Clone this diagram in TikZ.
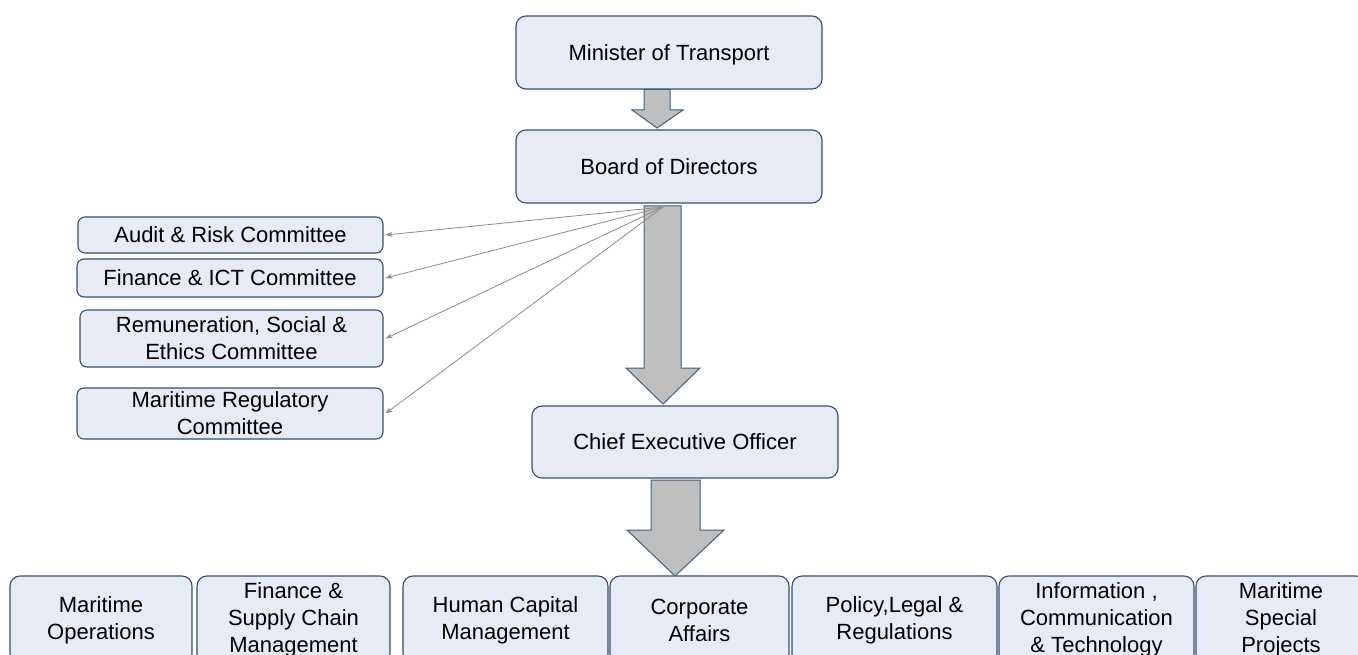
\documentclass[tikz,border=0pt]{standalone}
\usepackage{fontspec}
\setmainfont{Liberation Sans}
\usetikzlibrary{arrows.meta}
\definecolor{boxfill}{HTML}{E8EAF5}
\definecolor{boxline}{HTML}{34506E}
\definecolor{arrowfill}{HTML}{BFBFBF}
\definecolor{arrowline}{HTML}{3F5F7A}
\definecolor{linkgray}{HTML}{8C8C8C}
\begin{document}
\begin{tikzpicture}[x=1pt,y=-1pt,
  box/.style={draw=boxline, fill=boxfill, line width=1.1pt, rounded corners=10pt,
    align=center, inner sep=0pt, font=\fontsize{22}{27}\selectfont},
  smallbox/.style={box, rounded corners=7pt},
  sized/.style 2 args={minimum width=#1pt, minimum height=#2pt},
  blockarrow/.style={fill=arrowfill, draw=arrowline, line width=1pt, line join=miter},
  link/.style={draw=linkgray, line width=0.8pt, -{Stealth[length=7pt,width=5pt]}},
]
\clip (0,0) rectangle (1358,655);
\fill[white] (0,0) rectangle (1358,655);

% top of the hierarchy
\node[box, sized={306}{73}, text depth=0pt] (minister) at (669,52.5) {Minister of Transport};
\node[box, sized={306}{73}] (board) at (669,166.5) {Board of Directors};
\node[box, sized={306}{72}] (ceo) at (685,442) {Chief Executive Officer};

% board committees
\node[smallbox, sized={305}{36}] (audit) at (230.5,235) {Audit \& Risk Committee};
\node[smallbox, sized={306}{38}] (finict) at (230,278) {Finance \& ICT Committee};
\node[smallbox, sized={303}{57}] (remun) at (231.5,338.5) {Remuneration, Social \&\\Ethics Committee};
\node[smallbox, sized={306}{51}] (mreg) at (230,413.5) {Maritime Regulatory\\Committee};

% divisions
\node[box, sized={182}{88}] (ops) at (101,620) {Maritime\\Operations};
\node[box, sized={193}{88}] (fscm) at (293.5,620) {Finance \&\\Supply Chain\\Management};
\node[box, sized={205}{88}] (hcm) at (505.5,620) {Human Capital\\Management};
\node[box, sized={179}{88}] (corp) at (699.5,620) {Corporate\\Affairs};
\node[box, sized={205}{88}] (plr) at (894.5,620) {Policy,Legal \&\\Regulations};
\node[box, sized={195}{88}] (ict) at (1096.5,620) {Information ,\\Communication\\\& Technology};
\node[box, sized={170}{88}] (msp) at (1281,620) {Maritime\\Special\\Projects};

% block arrows down the chain of command
\draw[blockarrow] (644,89.5) -- (670,89.5) -- (670,110) -- (683,110) -- (657,128)
  -- (632,110) -- (644,110) -- cycle;
\draw[blockarrow] (644,206) -- (681,206) -- (681,368) -- (700,368) -- (663,404)
  -- (626,368) -- (644,368) -- cycle;
\draw[blockarrow] (651,480) -- (700,480) -- (700,530) -- (724,530) -- (675,576)
  -- (627,530) -- (651,530) -- cycle;

% board to committees
\coordinate (hub) at (663,207);
\draw[link] (hub) -- ([xshift=2pt]audit.east);
\draw[link] (hub) -- ([xshift=2pt]finict.east);
\draw[link] (hub) -- ([xshift=2pt]remun.east);
\draw[link] (hub) -- ([xshift=2pt]mreg.east);
\end{tikzpicture}
\end{document}
